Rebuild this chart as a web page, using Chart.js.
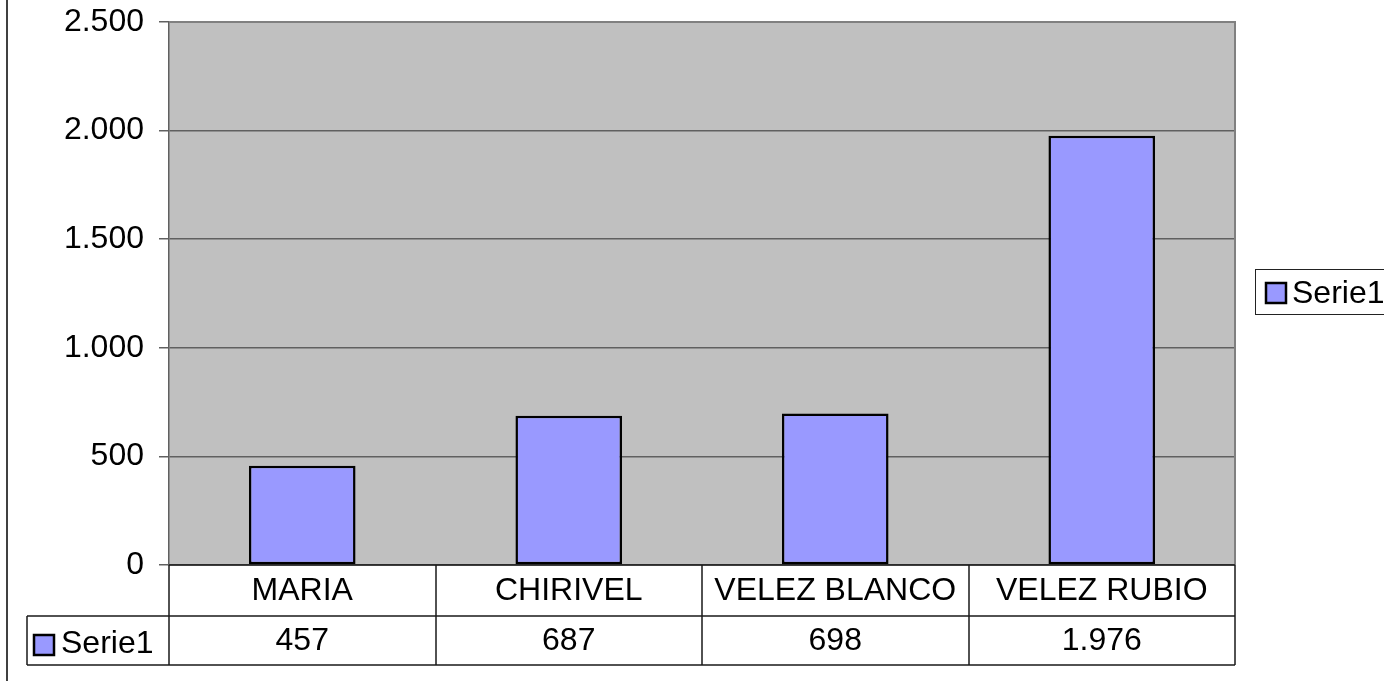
<!DOCTYPE html>
<html>
<head>
<meta charset="utf-8">
<script src="https://cdn.jsdelivr.net/npm/chart.js@4/dist/chart.umd.min.js"></script>
<style>
  html, body { margin: 0; padding: 0; background: #fff; }
  #wrap { width: 1384px; height: 681px; }
</style>
</head>
<body>
<div id="wrap"><canvas id="chart" width="1384" height="681"></canvas></div>
<script>
const categories = ["MARIA", "CHIRIVEL", "VELEZ BLANCO", "VELEZ RUBIO"];
const serie1 = [457, 687, 698, 1976];
const seriesName = "Serie1";
const yMax = 2500;
const yStep = 500;

const FONT = "Liberation Sans, Arial, sans-serif";
const FSIZE = 32;

// miles con punto: 1976 -> 1.976
function fmt(v) {
  return String(v).replace(/\B(?=(\d{3})+(?!\d))/g, ".");
}

function keyBox(ctx, x, y) {
  ctx.fillStyle = "#9999FF";
  ctx.fillRect(x, y, 20, 20);
  ctx.strokeStyle = "#000";
  ctx.lineWidth = 2.5;
  ctx.strokeRect(x, y, 20, 20);
}

const frameAndTable = {
  id: "frameAndTable",
  beforeDraw(chart) {
    const { ctx, chartArea: a } = chart;
    ctx.save();
    ctx.fillStyle = "#C0C0C0";
    ctx.fillRect(a.left, a.top, a.right - a.left, a.bottom - a.top);
    ctx.restore();
  },
  afterDraw(chart) {
    const { ctx, chartArea: a } = chart;
    const x = chart.scales.x;
    const row1 = a.bottom + 51;
    const row2 = row1 + 49;
    const tableLeft = 27;

    ctx.save();
    // marco del área
    ctx.strokeStyle = "#808080";
    ctx.lineWidth = 2;
    ctx.beginPath();
    ctx.moveTo(a.left, a.top);
    ctx.lineTo(a.right, a.top);
    ctx.lineTo(a.right, a.bottom);
    ctx.stroke();

    // tabla de datos
    ctx.strokeStyle = "#1a1a1a";
    ctx.lineWidth = 1.5;
    ctx.beginPath();
    ctx.moveTo(a.left, a.bottom); ctx.lineTo(a.right, a.bottom);
    ctx.moveTo(tableLeft, row1); ctx.lineTo(a.right, row1);
    ctx.moveTo(tableLeft, row2); ctx.lineTo(a.right, row2);
    ctx.moveTo(tableLeft, row1); ctx.lineTo(tableLeft, row2);
    const w = (a.right - a.left) / categories.length;
    for (let i = 0; i <= categories.length; i++) {
      const bx = Math.round(a.left + i * w);
      ctx.moveTo(bx, a.bottom); ctx.lineTo(bx, row2);
    }
    ctx.stroke();

    ctx.fillStyle = "#000";
    ctx.font = FSIZE + "px " + FONT;
    ctx.textAlign = "center";
    ctx.textBaseline = "middle";
    categories.forEach((c, i) => {
      const cx = x.getPixelForValue(i);
      ctx.fillText(c, cx, a.bottom + 26);
      ctx.fillText(fmt(serie1[i]), cx, row1 + 25);
    });

    keyBox(ctx, 34, row1 + 19);
    ctx.fillStyle = "#000";
    ctx.textAlign = "left";
    ctx.fillText(seriesName, 61, row1 + 28);

    // leyenda
    ctx.strokeStyle = "#222";
    ctx.lineWidth = 1;
    ctx.strokeRect(1255.5, 269.5, 140, 45);
    keyBox(ctx, 1266, 283);
    ctx.fillStyle = "#000";
    ctx.fillText(seriesName, 1292, 294);

    // borde izquierdo del gráfico
    ctx.strokeStyle = "#000";
    ctx.lineWidth = 1.5;
    ctx.beginPath();
    ctx.moveTo(7, 0); ctx.lineTo(7, 681);
    ctx.stroke();
    ctx.restore();
  }
};

new Chart(document.getElementById("chart"), {
  type: "bar",
  data: {
    labels: categories,
    datasets: [{
      label: seriesName,
      data: serie1,
      backgroundColor: "#9999FF",
      borderColor: "#000",
      borderWidth: 2.5,
      borderSkipped: false,
      barPercentage: 0.4,
      categoryPercentage: 1
    }]
  },
  options: {
    responsive: false,
    animation: false,
    devicePixelRatio: 1,
    layout: { autoPadding: false, padding: { left: 0, top: 22, right: 149, bottom: 0 } },
    plugins: { legend: { display: false }, tooltip: { enabled: false } },
    scales: {
      x: {
        ticks: { display: false },
        grid: { display: false },
        border: { display: false },
        afterFit(s) { s.height = 116; s.paddingLeft = 0; s.paddingRight = 0; }
      },
      y: {
        min: 0,
        max: yMax,
        ticks: {
          stepSize: yStep,
          color: "#000",
          padding: 15,
          font: { family: FONT, size: FSIZE },
          callback: v => fmt(v)
        },
        grid: { color: "#606060", lineWidth: 1.5, tickLength: 10 },
        border: { color: "#606060", width: 1.5 },
        afterFit(s) { s.width = 169; s.paddingTop = 0; s.paddingBottom = 0; }
      }
    }
  },
  plugins: [frameAndTable]
});
</script>
</body>
</html>
